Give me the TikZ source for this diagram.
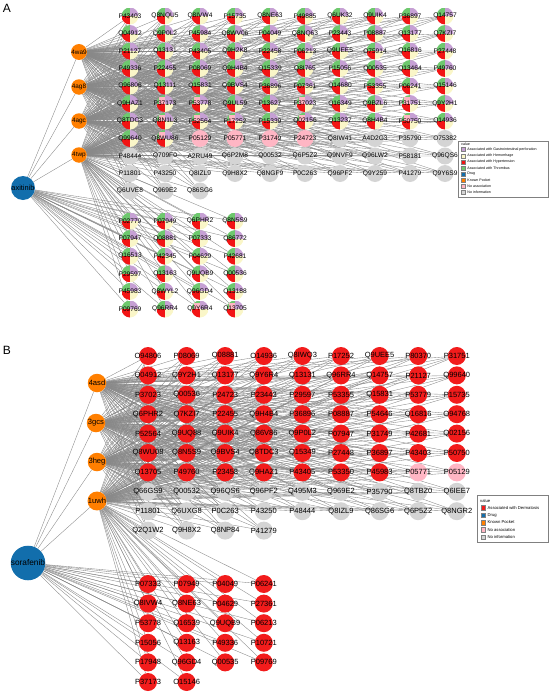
\documentclass[tikz,border=0pt]{standalone}
\usepackage{fontspec}
\setmainfont{Liberation Sans}
\usetikzlibrary{backgrounds}
\definecolor{gastro}{RGB}{198,160,212}
\definecolor{hemor}{RGB}{250,246,200}
\definecolor{hyper}{RGB}{242,20,20}
\definecolor{thromb}{RGB}{110,200,110}
\definecolor{drug}{RGB}{18,110,172}
\definecolor{pocket}{RGB}{255,127,0}
\definecolor{noassoc}{RGB}{255,182,196}
\definecolor{noinfo}{RGB}{212,212,212}
\definecolor{dermat}{RGB}{242,28,28}
\definecolor{wire}{RGB}{136,136,136}
\newcommand\fA{\fontsize{6.6}{7}\selectfont}
\newcommand\fB{\fontsize{7.5}{8}\selectfont}
\tikzset{
  edge/.style={draw=wire,line width=0.36pt},
  tgt/.style={circle,inner sep=0pt,minimum size=17pt},
  pie/.style={tgt,path picture={
    \fill[thromb] (path picture bounding box.center) rectangle (path picture bounding box.north west);
    \fill[gastro] (path picture bounding box.center) rectangle (path picture bounding box.north east);
    \fill[hemor] (path picture bounding box.center) rectangle (path picture bounding box.south east);
    \fill[hyper] (path picture bounding box.center) rectangle (path picture bounding box.south west);}},
  noas/.style={tgt,fill=noassoc},
  noinf/.style={tgt,fill=noinfo},
  red/.style={tgt,minimum size=18pt,fill=dermat},
  lblA/.style={font=\fA,inner sep=0pt},
  lblB/.style={font=\fB,inner sep=0pt},
  pocketA/.style={circle,fill=pocket,minimum size=15.5pt,inner sep=0pt,font=\fontsize{6.4}{7}\selectfont},
  pocketB/.style={circle,fill=pocket,minimum size=18.5pt,inner sep=0pt,font=\fontsize{7.6}{8}\selectfont},
  drugnode/.style={circle,fill=drug,inner sep=0pt},
  swatch/.style={draw=gray,line width=0.2pt,inner sep=0pt,minimum size=#1},
  legtxt/.style={inner sep=0pt,anchor=west,font=\fontsize{#1}{#1}\selectfont}
}
% panel A targets
\def\pieA{P43403,Q8NQU5,Q8IVW4,P15735,Q8NE63,P49885,Q6UK32,Q9UIK4,P36897,Q14757,
  Q04912,Q9P0L2,P45984,Q8WV06,P04049,Q8NQ63,P23443,P08887,Q13177,Q7KZI7,
  P21127,Q13131,P43405,Q9H2K8,P22458,P06213,Q9UEE5,O75914,Q16816,P27448,
  P49336,P22455,P08069,Q9H4B4,Q15339,Q8I765,P15056,Q00535,Q13464,P49760,
  Q96806,Q13111,Q15831,Q9BVS4,P36896,P07361,Q14680,P53355,P06241,Q15146,
  Q9HAZ1,P37173,P53778,Q9UL59,P13627,P37023,Q16349,Q9BZL6,P31751,Q9Y2H1,
  Q8TDC3,Q8N1L3,P52564,P17252,P15339,Q02156,Q13237,Q8H4B4,P50750,Q14936,
  Q99640,Q8WU86}
\def\pinkA{P05129,P05771,P31749,P24723}
\def\grayA{Q8IW41,A4D2G3,P35790,O75382,
  P48444,Q709F0,A2RU49,Q6P2M8,Q00532,Q6P5Z2,Q9NVF9,Q96LW2,P58181,Q96QS6,
  P11801,P43250,Q8IZL9,Q9H8X2,Q8NGF9,P0C263,Q96PF2,Q9Y259,P41279,Q9Y6S9,
  Q6UVE8,Q969E2,Q86SG6}
\def\lowA{P02779,P07949,Q6PHR2,Q8N5S9,P07947,Q08881,P07333,Q86772,
  Q16513,P42345,P04629,P42681,P29597,Q13163,Q9UQB9,Q00536,
  P45983,Q8WYL2,Q96GD4,Q13188,P09769,Q96RR4,Q9Y6R4,Q13705}
\def\tlA{P37173,P53778,P37023,P31751,Q8N1L3,P52564,P17252,Q02156,P50750,Q8WU86,Q9Y6R4,Q13705}
% panel B targets
\def\redB{O94806,P08069,Q08881,O14936,Q8IWQ3,P17252,Q9UEE5,P80370,P31751,
  Q04912,Q9Y2H1,Q13177,Q9Y6R4,Q13131,Q96RR4,Q14757,P21127,Q99640,
  P37023,Q00536,P24723,P23443,P29597,P53355,Q15831,P53779,P15735,
  Q6PHR2,Q7KZI7,P22455,Q9H4B4,P36896,P08887,P54646,Q16816,O94768,
  P52564,Q9UQ88,Q9UIK4,Q86V86,Q9P0L2,P07947,P31749,P42681,Q02156,
  Q8WU08,Q8N5S9,Q9BVS4,Q8TDC3,Q15349,P27448,P36897,P43403,P50750,
  Q13705,P49760,P23458,Q9HAZ1,P43405,P53350,P45983}
\def\pinkB{P05771,P05129}
\def\grayB{Q66GS9,Q00532,Q96QS6,Q96PF2,Q495M3,Q969E2,P35790,Q8TBZ0,Q6IEE7,
  P11801,Q6UXG8,P0C263,P43250,P48444,Q8IZL9,Q86SG6,Q6P5Z2,Q8NGR2,
  Q2Q1W2,Q9H8X2,Q8NP84,P41279}
\def\lowB{P07333,P07949,P04049,P06241,Q8IVW4,Q8NE63,P04629,P27361,
  P53778,Q16539,Q9UQB9,P06213,P15056,Q13163,P49336,P10721,
  P17948,Q96GD4,Q00535,P09769,P37173,O15146}
\begin{document}
\begin{tikzpicture}[x=1pt,y=-1pt]
\useasboundingbox (0,0) rectangle (550,696);
\node[font=\fontsize{12}{12}\selectfont] at (7,8) {A};
\node[font=\fontsize{12}{12}\selectfont] at (7,350) {B};
% ---- panel A ----
\node[drugnode,minimum size=24pt,font=\fontsize{7.4}{8}\selectfont] (axitinib) at (23,188) {axitinib};
\node[pocketA] (k4wa9) at (79,52) {4wa9};
\node[pocketA] (k4ag8) at (79,87) {4ag8};
\node[pocketA] (k4agc) at (79,121) {4agc};
\node[pocketA] (k4twp) at (79,155) {4twp};
\foreach \t [count=\i from 0] in \pieA {
  \pgfmathtruncatemacro\r{\i/10}
  \pgfmathtruncatemacro\c{\i-10*\r}
  \node[pie] (a\t) at ({130+35*\c},{16+17.5*\r}) {};
}
\foreach \t [count=\i from 72] in \pinkA {
  \pgfmathtruncatemacro\r{\i/10}
  \pgfmathtruncatemacro\c{\i-10*\r}
  \node[noas,label={[lblA]center:\t}] (a\t) at ({130+35*\c},{16+17.5*\r}) {};
}
\foreach \t [count=\i from 76] in \grayA {
  \pgfmathtruncatemacro\r{\i/10}
  \pgfmathtruncatemacro\c{\i-10*\r}
  \node[noinf,label={[lblA]center:\t}] (a\t) at ({130+35*\c},{16+17.5*\r}) {};
}
\foreach \t [count=\i from 0] in \lowA {
  \pgfmathtruncatemacro\r{\i/4}
  \pgfmathtruncatemacro\c{\i-4*\r}
  \node[pie] (a\t) at ({130+35*\c},{221+17.6*\r}) {};
}
% pink quarter where no association
\foreach \t in \tlA {
  \begin{scope}
    \clip (a\t) circle[radius=8.5pt];
    \fill[noassoc] (a\t.center) rectangle (a\t.north west);
  \end{scope}
}
\foreach \t in \pieA {\node[lblA] at (a\t) {\t};}
\foreach \t in \lowA {\node[lblA] at (a\t) {\t};}
% legend A
\draw[gray,line width=0.4pt] (458,141) rectangle (548,197);
\node[legtxt=3.6] at (461,144.3) {value};
\foreach \c/\txt [count=\i] in {gastro/Associated with Gastrointestinal perforation,
  hemor/Associated with Hemorrhage,hyper/Associated with Hypertension,
  thromb/Associated with Thrombus,drug/Drug,pocket/Known Pocket,
  noassoc/No association,noinfo/No information} {
  \node[swatch=4pt,fill=\c] (lgA\i) at (463.5,{143.4+6.1*\i}) {};
  \node[legtxt=3.6] at ([xshift=1.6pt]lgA\i.east) {\txt};
}
% ---- panel B ----
\node[drugnode,minimum size=28pt,font=\fontsize{8.3}{9}\selectfont] (sorafenib) at (28,563) {sorafenib};
\node[pocketB] (k4asd) at (97,383) {4asd};
\node[pocketB] (k3gcs) at (96,423) {3gcs};
\node[pocketB] (k3heg) at (97,462) {3heg};
\node[pocketB] (k1uwh) at (97,501) {1uwh};
\foreach \t [count=\i from 0] in \redB {
  \pgfmathtruncatemacro\r{\i/9}
  \pgfmathtruncatemacro\c{\i-9*\r}
  \node[red,label={[lblB]center:\t}] (b\t) at ({148+38.6*\c},{356+19.4*\r}) {};
}
\foreach \t [count=\i from 61] in \pinkB {
  \pgfmathtruncatemacro\r{\i/9}
  \pgfmathtruncatemacro\c{\i-9*\r}
  \node[noas,minimum size=18pt,label={[lblB]center:\t}] (b\t) at ({148+38.6*\c},{356+19.4*\r}) {};
}
\foreach \t [count=\i from 63] in \grayB {
  \pgfmathtruncatemacro\r{\i/9}
  \pgfmathtruncatemacro\c{\i-9*\r}
  \node[noinf,minimum size=18pt,label={[lblB]center:\t}] (b\t) at ({148+38.6*\c},{356+19.4*\r}) {};
}
\foreach \t [count=\i from 0] in \lowB {
  \pgfmathtruncatemacro\r{\i/4}
  \pgfmathtruncatemacro\c{\i-4*\r}
  \node[red,label={[lblB]center:\t}] (b\t) at ({148+38.6*\c},{584+19.6*\r}) {};
}
% legend B
\draw[gray,line width=0.4pt] (477,495) rectangle (548,542);
\node[legtxt=4.2] at (480,500.5) {value};
\foreach \c/\txt [count=\i] in {dermat/Associated with Dermatosis,drug/Drug,
  pocket/Known Pocket,noassoc/No association,noinfo/No information} {
  \node[swatch=4.6pt,fill=\c] (lgB\i) at (483,{500.2+7.4*\i}) {};
  \node[legtxt=4.2] at ([xshift=2pt]lgB\i.east) {\txt};
}
% ---- edges ----
\begin{scope}[on background layer]
\foreach \p in {k4wa9,k4ag8,k4agc,k4twp} {
  \draw[edge] (axitinib) -- (\p);
  \foreach \t in \pieA {\draw[edge] (\p) -- (a\t);}
  \foreach \t in \pinkA {\draw[edge] (\p) -- (a\t);}
  \foreach \t in \grayA {\draw[edge] (\p) -- (a\t);}
}
\foreach \t in \lowA {
  \draw[edge] (axitinib) -- (a\t);
  \draw[edge] (k4twp) -- (a\t);
}
\foreach \p in {k4asd,k3gcs,k3heg,k1uwh} {
  \draw[edge] (sorafenib) -- (\p);
  \foreach \t in \redB {\draw[edge] (\p) -- (b\t);}
  \foreach \t in \pinkB {\draw[edge] (\p) -- (b\t);}
  \foreach \t in \grayB {\draw[edge] (\p) -- (b\t);}
}
\foreach \t in \lowB {
  \draw[edge] (sorafenib) -- (b\t);
  \draw[edge] (k1uwh) -- (b\t);
}
\end{scope}
\end{tikzpicture}
\end{document}
